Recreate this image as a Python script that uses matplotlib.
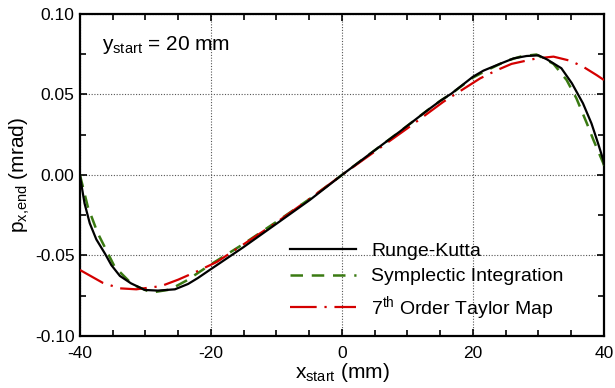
import numpy as np
import matplotlib
matplotlib.use("Agg")
import matplotlib.pyplot as plt
from matplotlib.ticker import MultipleLocator

plt.rcParams['font.family'] = ['Liberation Sans', 'DejaVu Sans']
plt.rcParams['mathtext.fontset'] = 'custom'
plt.rcParams['mathtext.rm'] = 'Liberation Sans'
plt.rcParams['mathtext.default'] = 'regular'
plt.rcParams['axes.unicode_minus'] = False

# Runge-Kutta
rk_x = [-40, -39.9, -39.3, -38.5, -37.5, -36.2, -35.2, -33.9, -32.2, -30.1, -28.1, -25.5,
        -23.5, -22.0, -20.2, -15.1, -9.9, -4.9, 0, 4.4, 8.85, 13.0, 15.0, 16.7, 20.0, 21.6,
        24.1, 26.2, 28.2, 30.0, 31.3, 33.5, 35.1, 36.8, 38.1, 39.1, 39.9, 40]
rk_y = [0.000, -0.003, -0.0176, -0.030, -0.040, -0.0487, -0.056, -0.0627, -0.0673, -0.0714,
        -0.0718, -0.071, -0.0677, -0.064, -0.059, -0.045, -0.030, -0.0155, 0.0, 0.0135, 0.027,
        0.040, 0.046, 0.0505, 0.061, 0.0648, 0.069, 0.0724, 0.0739, 0.0743, 0.0718, 0.0663,
        0.057, 0.0445, 0.032, 0.0197, 0.0093, 0.007]

# Symplectic integration
si_x = [-40, -38.8, -37.3, -34.7, -32.0, -29.1, -26.3, -23.7, -20.2, -15.1, -9.9, -4.9, 0,
        4.4, 8.85, 13.0, 15.0, 16.7, 20.0, 22.1, 25.2, 27.5, 29.7, 32.3, 34.3, 35.8, 37.4,
        38.4, 39.9, 40]
si_y = [0.000, -0.0197, -0.036, -0.057, -0.068, -0.073, -0.0712, -0.0655, -0.056, -0.043,
        -0.0288, -0.0148, 0.0, 0.0135, 0.027, 0.040, 0.046, 0.0505, 0.0605, 0.065, 0.071,
        0.0738, 0.0748, 0.069, 0.059, 0.0476, 0.032, 0.0217, 0.0073, 0.006]

# 7th order Taylor map
tm_x = [-40, -36.5, -33.9, -31.4, -27.6, -25.0, -22.2, -19.1, -15, -10, -5, 0, 5, 10,
        15.5, 21.1, 23.6, 25.9, 29.7, 32.3, 34.8, 36.8, 38.9, 40]
tm_y = [-0.059, -0.067, -0.0704, -0.071, -0.069, -0.065, -0.060, -0.054, -0.043, -0.0295,
        -0.015, 0.0, 0.0145, 0.029, 0.0455, 0.060, 0.065, 0.069, 0.0724, 0.0735, 0.071,
        0.0673, 0.062, 0.059]

fig = plt.figure(figsize=(6.15, 3.88), dpi=100)
ax = fig.add_axes([0.130, 0.134, 0.852, 0.830])

ax.plot(rk_x, rk_y, color='black', lw=1.6, label='Runge-Kutta', zorder=4)
ax.plot(si_x, si_y, color='#3a7a12', lw=1.8, dashes=(5, 3.5), label='Symplectic Integration', zorder=3)
ax.plot(tm_x, tm_y, color='#d40000', lw=1.6, dashes=(12, 3.5, 1, 3.5), label='7$^{th}$ Order Taylor Map', zorder=3)

ax.set_xlim(-40, 40)
ax.set_ylim(-0.10, 0.10)
ax.xaxis.set_major_locator(MultipleLocator(20))
ax.xaxis.set_minor_locator(MultipleLocator(5))
ax.yaxis.set_major_locator(MultipleLocator(0.05))
ax.yaxis.set_minor_locator(MultipleLocator(0.025))
ax.yaxis.set_major_formatter(lambda v, p: f"{v:.2f}".replace("-0.00", "0.00"))
ax.tick_params(which='both', direction='in', top=True, right=True, labelsize=12.5, width=1.2)
ax.tick_params(which='major', length=5, pad=4)
ax.tick_params(axis='x', which='major', pad=7)
ax.tick_params(which='minor', length=4)
for s in ax.spines.values():
    s.set_linewidth(1.6)
ax.grid(True, which='major', ls=(0, (1, 1.5)), color='#555555', lw=0.8)

ax.set_xlabel('$x_{start}$ (mm)', fontsize=15, labelpad=0)
ax.set_ylabel('$p_{x{,}end}$ (mrad)', fontsize=15, labelpad=2)
ax.text(-36.6, 0.081, '$y_{start}$ = 20 mm', fontsize=15, va='center', ha='left')

ax.legend(loc='lower left', bbox_to_anchor=(0.40, 0.045), frameon=False, fontsize=14,
          handlelength=3.4, handletextpad=0.8, labelspacing=0.42, borderpad=0, borderaxespad=0)

fig.savefig('out.png', dpi=100)
